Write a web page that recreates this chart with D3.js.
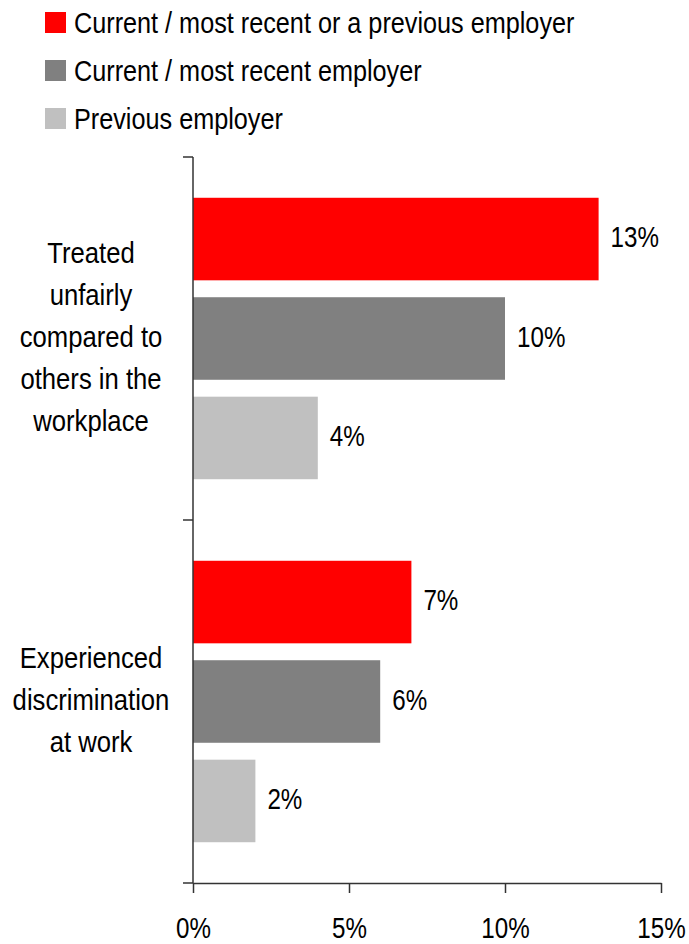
<!DOCTYPE html>
<html>
<head>
<meta charset="utf-8">
<script src="https://cdn.jsdelivr.net/npm/d3@7"></script>
<style>
  html, body { margin: 0; padding: 0; background: #fff; }
  svg text { font-family: "Liberation Sans Narrow", "Arial Narrow", "Liberation Sans", Arial, sans-serif; fill: #000; }
</style>
</head>
<body>
<svg id="chart" width="689" height="944"></svg>
<script>
// Survey categories (label lines as printed)
const categories = ["Treated unfairly compared to others in the workplace", "Experienced discrimination at work"];
const categoryLines = [
  ["Treated", "unfairly", "compared to", "others in the", "workplace"],
  ["Experienced", "discrimination", "at work"]
];
const seriesNames = ["Current / most recent or a previous employer", "Current / most recent employer", "Previous employer"];
const seriesColors = ["#ff0000", "#808080", "#c0c0c0"];
// Values per category, in series order
const valuesTreated = [0.13, 0.10, 0.04];
const valuesDiscrimination = [0.07, 0.06, 0.02];
const xTicks = [0, 0.05, 0.10, 0.15];

const table = categories.map((c, i) => ({
  category: c,
  lines: categoryLines[i],
  values: [valuesTreated, valuesDiscrimination][i]
}));

// Narrow face emulation: squeeze text horizontally about its anchor
const narrowWords = "scale(0.87,1)";
const narrowNums = "scale(0.82,1)";

const svg = d3.select("#chart");

const x = d3.scaleLinear().domain([0, 0.15]).range([193, 661]);
const y0 = d3.scaleBand().domain(categories).range([157, 883]).padding(0);
const y1 = d3.scaleBand().domain(seriesNames).range([0, y0.bandwidth()])
  .paddingInner(0.17).paddingOuter(0.41);
const color = d3.scaleOrdinal().domain(seriesNames).range(seriesColors);
const pct = d3.format(".0%");

// Legend
const legend = svg.append("g").selectAll("g").data(seriesNames).join("g")
  .attr("transform", (d, i) => `translate(45, ${12 + i * 48})`);
legend.append("rect").attr("width", 21).attr("height", 21).attr("fill", d => color(d));
legend.append("g").attr("transform", "translate(29, 10.5)")
  .append("text").attr("dy", "0.35em").attr("transform", narrowWords)
  .style("font-size", "29px").text(d => d);

// Bars
const groups = svg.append("g").selectAll("g").data(table).join("g")
  .attr("transform", d => `translate(0, ${y0(d.category)})`);

const barData = d => d.values.map((v, i) => ({ s: seriesNames[i], v }));

groups.selectAll("rect").data(barData)
  .join("rect")
  .attr("x", x(0))
  .attr("y", d => y1(d.s))
  .attr("width", d => x(d.v) - x(0))
  .attr("height", y1.bandwidth())
  .attr("fill", d => color(d.s));

groups.selectAll("g.value").data(barData)
  .join("g")
  .attr("class", "value")
  .attr("transform", d => `translate(${x(d.v) + 12}, ${y1(d.s) + y1.bandwidth() / 2 + 8})`)
  .append("text")
  .attr("transform", narrowNums)
  .style("font-size", "29.5px")
  .text(d => pct(d.v));

// Category labels, multi-line, centred left of the axis
groups.append("g")
  .attr("transform", `translate(91, ${y0.bandwidth() / 2 + 8.5})`)
  .append("text")
  .attr("text-anchor", "middle")
  .attr("transform", narrowWords)
  .style("font-size", "29.5px")
  .selectAll("tspan").data(d => d.lines.map((t, i) => ({ t, i, n: d.lines.length })))
  .join("tspan")
  .attr("x", 0)
  .attr("y", d => (d.i - (d.n - 1) / 2) * 42)
  .text(d => d.t);

// Vertical category axis with ticks on the band boundaries
const yAxis = svg.append("g").attr("transform", `translate(${x(0)},0)`);
yAxis.append("line").attr("x1", 0).attr("x2", 0)
  .attr("y1", y0.range()[0]).attr("y2", y0.range()[1])
  .attr("stroke", "#333").attr("stroke-width", 1.5);
const bounds = categories.map(c => y0(c)).concat([y0.range()[1]]);
yAxis.selectAll("line.tick").data(bounds).join("line")
  .attr("class", "tick")
  .attr("x1", -10).attr("x2", 0)
  .attr("y1", d => d).attr("y2", d => d)
  .attr("stroke", "#333").attr("stroke-width", 1.5);

// Horizontal value axis
const xAxis = svg.append("g").attr("transform", `translate(0, ${y0.range()[1]})`)
  .call(d3.axisBottom(x).tickValues(xTicks).tickFormat(pct).tickSize(10).tickPadding(24).tickSizeOuter(0));
xAxis.select(".domain").attr("stroke", "#333").attr("stroke-width", 1.5);
xAxis.selectAll(".tick line").attr("stroke", "#333").attr("stroke-width", 1.5);
xAxis.selectAll(".tick text").style("font-size", "29.5px").attr("fill", "#000")
  .attr("transform", narrowNums)
  .style("font-family", "'Liberation Sans Narrow', 'Arial Narrow', 'Liberation Sans', Arial, sans-serif");
</script>
</body>
</html>
